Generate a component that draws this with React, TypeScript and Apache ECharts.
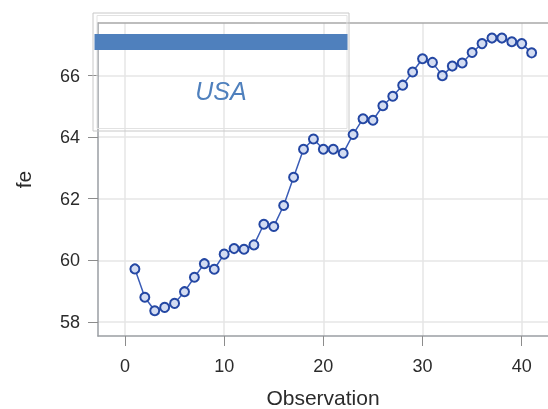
import React, { useEffect, useRef } from "react";
import * as echarts from "echarts";

const observations = [1, 2, 3, 4, 5, 6, 7, 8, 9, 10, 11, 12, 13, 14, 15, 16, 17, 18, 19, 20, 21, 22, 23, 24, 25, 26, 27, 28, 29, 30, 31, 32, 33, 34, 35, 36, 37, 38, 39, 40, 41];
const feValues = [59.72, 58.8, 58.36, 58.47, 58.6, 58.98, 59.45, 59.89, 59.71, 60.2, 60.38, 60.36, 60.5, 61.17, 61.1, 61.78, 62.7, 63.61, 63.94, 63.61, 63.61, 63.48, 64.09, 64.6, 64.55, 65.02, 65.33, 65.69, 66.12, 66.55, 66.43, 66.0, 66.31, 66.41, 66.75, 67.04, 67.22, 67.22, 67.1, 67.04, 66.74];
const xTicks = [0, 10, 20, 30, 40];
const yTicks = [58, 60, 62, 64, 66];
const xRange = [-2.72, 42.65];
const yRange = [57.54, 67.71];
const xTitle = "Observation";
const yTitle = "fe";
const panelLabel = "USA";

export default function App() {
  const ref = useRef<HTMLDivElement>(null);
  useEffect(() => {
    const chart = echarts.init(ref.current!, null, { renderer: "svg" });
    const font = "'Liberation Sans', Arial, sans-serif";
    chart.setOption({
      animation: false,
      grid: { left: 98, right: 0, top: 23, bottom: 73, containLabel: false, outerBoundsMode: "none" },
      xAxis: [
        {
          type: "value",
          min: xRange[0],
          max: xRange[1],
          name: xTitle,
          nameLocation: "middle",
          nameGap: 51,
          nameTextStyle: { fontSize: 21, color: "#2b2b2b", fontFamily: font },
          axisLine: { show: true, onZero: false, lineStyle: { color: "#9a9ea3", width: 1.5 } },
          axisTick: { show: true, customValues: xTicks, length: 10, lineStyle: { color: "#8c8c8c", width: 1 } },
          axisLabel: { customValues: xTicks, fontSize: 18, color: "#2b2b2b", margin: 21, fontFamily: font },
          splitLine: { show: true, lineStyle: { color: "#e6e6e6", width: 1.5 } },
        },
        {
          type: "value",
          position: "top",
          min: xRange[0],
          max: xRange[1],
          axisLine: { show: true, onZero: false, lineStyle: { color: "#a8a8a8", width: 1.5 } },
          axisTick: { show: false },
          axisLabel: { show: false },
          splitLine: { show: false },
        },
      ],
      yAxis: {
        type: "value",
        min: yRange[0],
        max: yRange[1],
        name: yTitle,
        nameLocation: "middle",
        nameGap: 64,
        nameTextStyle: { fontSize: 21, color: "#2b2b2b", fontFamily: font },
        axisLine: { show: true, onZero: false, lineStyle: { color: "#9a9ea3", width: 1.5 } },
        axisTick: { show: true, customValues: yTicks, length: 10, lineStyle: { color: "#8c8c8c", width: 1 } },
        axisLabel: { customValues: yTicks, fontSize: 18, color: "#2b2b2b", margin: 18, fontFamily: font },
        splitLine: { show: true, lineStyle: { color: "#e6e6e6", width: 1.5 } },
      },
      series: [
        {
          type: "line",
          xAxisIndex: 0,
          data: observations.map((o, i) => [o, feValues[i]]),
          symbol: "circle",
          symbolSize: 9,
          lineStyle: { color: "#3a5cb6", width: 1.5 },
          itemStyle: { color: "#d3dcf2", borderColor: "#2447a3", borderWidth: 2 },
          z: 3,
        },
      ],
      graphic: [
        {
          type: "rect",
          shape: { x: 93, y: 13, width: 256, height: 118 },
          style: { fill: "none", stroke: "#c8c8c8", lineWidth: 1 },
          z: 10,
        },
        {
          type: "rect",
          shape: { x: 97, y: 15.5, width: 250, height: 113 },
          style: { fill: "none", stroke: "#e2e2e2", lineWidth: 1 },
          z: 10,
        },
        {
          type: "rect",
          shape: { x: 94.5, y: 34, width: 253, height: 16 },
          style: { fill: "#4f80bd" },
          z: 11,
        },
        {
          type: "text",
          x: 221,
          y: 91,
          style: {
            text: panelLabel,
            fontSize: 25,
            fontStyle: "italic",
            fontFamily: "'Liberation Sans', Arial, sans-serif",
            fill: "#4f80bd",
            align: "center",
            verticalAlign: "middle",
          },
          z: 11,
        },
      ],
    });
    return () => chart.dispose();
  }, []);
  return <div ref={ref} style={{ position: "fixed", left: 0, top: 0, width: 548, height: 409 }} />;
}
